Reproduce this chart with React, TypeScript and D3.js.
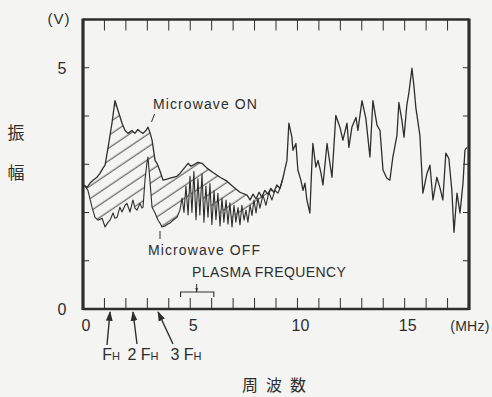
import React from 'react';
import * as d3 from 'd3';

// Microwave ON trace (upper), merges with OFF trace above ~9.3 MHz
const onFreq = [0.05,0.19,0.33,0.47,0.65,0.79,0.93,1.03,1.17,1.35,1.49,1.63,1.82,1.96,2.10,2.28,2.42,2.56,2.66,2.80,2.94,3.03,3.12,3.22,3.36,3.45,3.59,3.73,3.92,4.06,4.20,4.38,4.52,4.76,4.90,5.03,5.13,5.36,5.55,5.78,6.06,6.39,6.71,6.99,7.32,7.65,7.79,7.93,8.07,8.21,8.34,8.48,8.62,8.76,8.90,9.04,9.18,9.32,9.51,9.60,9.74,9.79,9.93,10.02,10.16,10.26,10.35,10.44,10.58,10.68,10.72,10.86,10.96,11.10,11.19,11.38,11.47,11.61,11.79,11.98,12.12,12.31,12.40,12.54,12.73,12.82,13.01,13.19,13.38,13.52,13.71,13.85,13.99,14.17,14.31,14.45,14.64,14.73,14.87,14.97,15.10,15.20,15.34,15.43,15.52,15.71,15.85,16.04,16.18,16.32,16.50,16.64,16.78,16.92,17.06,17.20,17.30,17.44,17.58,17.72,17.81,17.90];
const onVolt = [2.57,2.52,2.61,2.67,2.73,2.81,2.92,2.98,3.35,3.85,4.32,4.12,3.85,3.70,3.64,3.70,3.64,3.72,3.68,3.64,3.70,3.77,3.66,3.50,3.08,3.02,2.86,2.67,2.69,2.71,2.73,2.75,2.81,2.94,3.02,2.96,2.98,3.04,3.02,2.92,2.83,2.73,2.65,2.54,2.42,2.36,2.26,2.38,2.28,2.42,2.32,2.46,2.38,2.50,2.42,2.57,2.50,2.71,3.08,3.85,3.56,3.29,3.43,2.88,2.67,2.46,2.61,2.26,1.99,3.08,3.43,2.94,3.08,2.81,2.57,3.43,3.15,2.73,4.01,3.77,3.50,3.85,3.35,3.77,3.97,3.70,4.32,3.95,3.15,4.32,3.81,3.70,2.88,2.71,2.67,3.15,3.60,4.28,3.91,3.56,4.22,4.49,4.99,4.63,4.18,3.60,2.40,2.81,2.98,2.26,2.73,2.52,2.26,3.23,3.12,2.46,1.59,2.40,1.99,2.61,3.29,3.35];

// Microwave OFF trace (lower, noisy)
const offFreq = [0.05,0.23,0.42,0.56,0.70,0.89,1.03,1.17,1.26,1.40,1.49,1.59,1.72,1.82,1.96,2.05,2.19,2.33,2.42,2.52,2.66,2.75,2.80,2.89,2.98,3.03,3.12,3.22,3.36,3.50,3.59,3.68,3.82,3.96,4.06,4.20,4.38,4.52,4.62,4.71,4.80,4.90,4.99,5.08,5.17,5.27,5.36,5.45,5.55,5.64,5.73,5.83,5.92,6.01,6.11,6.20,6.29,6.39,6.48,6.57,6.67,6.76,6.85,6.95,7.04,7.13,7.23,7.32,7.41,7.51,7.60,7.69,7.79,7.88,7.97,8.07,8.16,8.25,8.39,8.53,8.67,8.81,8.95,9.09,9.23,9.32];
const offVolt = [2.57,2.46,2.11,1.90,1.84,1.88,1.70,1.80,1.84,1.99,1.88,1.90,2.11,2.01,2.15,2.19,2.01,2.26,2.09,2.05,2.19,2.09,2.11,2.67,3.02,3.15,2.67,2.11,1.99,1.84,1.78,1.70,1.72,1.76,1.78,1.84,1.90,2.05,2.30,2.00,2.55,1.95,2.75,2.00,2.85,1.85,2.70,1.95,2.80,1.80,2.55,1.90,2.60,1.75,2.45,1.85,2.40,1.72,2.30,1.80,2.26,1.76,2.20,1.70,2.15,1.80,2.10,1.74,2.15,1.84,2.05,1.80,2.15,1.94,2.26,1.99,2.30,2.09,2.36,2.15,2.42,2.26,2.46,2.40,2.55,2.71];

const xMajorTicks = [0, 5, 10, 15];
const xMajorLabels = ['0', '5', '10', '15'];
const xMinorTicks = [1,2,3,4,5,6,7,8,9,10,11,12,13,14,15,16,17];
const yMinorTicks = [1, 2, 3, 4, 5];
const yLabelTicks = [0, 5];
const yLabels = ['0', '5'];
const harmonicFreqs = [1.26, 2.33, 3.5];
const harmonicPrefix = ['', '2 ', '3 '];
const plasmaRange = [4.55, 6.1];
const plasmaCenter = 5.3;

const W = 492, H = 397;
const ink = '#2e2e2e';
const sans = '"Liberation Sans", Arial, Helvetica, sans-serif';
const cjk = '"Noto Sans CJK JP", "Noto Sans CJK SC", sans-serif';

export default function App() {
  const x = d3.scaleLinear().domain([0, 18]).range([83, 469]);
  const y = d3.scaleLinear().domain([0, 6]).range([309, 19.5]);

  const onPts: [number, number][] = onFreq.map((f, i) => [f, onVolt[i]]);
  const offPts: [number, number][] = offFreq.map((f, i) => [f, offVolt[i]]);
  const line = d3.line<[number, number]>().x(d => x(d[0])).y(d => y(d[1]));
  const joinIdx = onFreq.indexOf(9.32);
  const hatchPoly = onPts.slice(0, joinIdx + 1).concat(offPts.slice().reverse());
  const hatchPath = line(hatchPoly) + 'Z';

  const x0 = x(0), x1 = x(18), yTop = y(6), yBot = y(0);

  const arrowTails = [[107, 345], [137, 344], [173, 344]];

  return (
    <svg width={W} height={H} style={{ position: 'absolute', left: 0, top: 0, display: 'block' }}>
      <defs>
        <pattern id="hatch" patternUnits="userSpaceOnUse" width={12} height={10.5} patternTransform="rotate(-34)">
          <line x1={0} y1={5} x2={12} y2={5} stroke={ink} strokeWidth={0.9} />
        </pattern>
        <marker id="ah" viewBox="0 0 10 10" refX={9} refY={5} markerWidth={7} markerHeight={7} orient="auto">
          <path d="M0,1.5 L10,5 L0,8.5 Z" fill={ink} />
        </marker>
        <marker id="ahs" viewBox="0 0 10 10" refX={9} refY={5} markerWidth={5} markerHeight={5} orient="auto">
          <path d="M0,2 L10,5 L0,8 Z" fill={ink} />
        </marker>
      </defs>
      <rect x={0} y={0} width={W} height={H} fill="#f4f4f2" />

      {/* hatched region between ON and OFF */}
      <path d={hatchPath} fill="url(#hatch)" stroke="none" />

      {/* traces */}
      <path d={line(offPts) || ''} fill="none" stroke={ink} strokeWidth={1.1} strokeLinejoin="round" />
      <path d={line(onPts) || ''} fill="none" stroke={ink} strokeWidth={1.3} strokeLinejoin="round" />

      {/* frame */}
      <line x1={x0} y1={yTop} x2={x1} y2={yTop} stroke={ink} strokeWidth={2.5} />
      <line x1={x0} y1={yBot} x2={x1} y2={yBot} stroke={ink} strokeWidth={2.5} />
      <line x1={x0} y1={yTop - 1} x2={x0} y2={yBot + 1} stroke={ink} strokeWidth={3.2} />
      <line x1={x1} y1={yTop - 1} x2={x1} y2={yBot + 1} stroke={ink} strokeWidth={3.2} />

      {/* ticks */}
      {xMinorTicks.map(t => (
        <g key={'xt' + t}>
          <line x1={x(t)} x2={x(t)} y1={yTop} y2={yTop + 11} stroke={ink} strokeWidth={1} />
          <line x1={x(t)} x2={x(t)} y1={yBot} y2={yBot - 11} stroke={ink} strokeWidth={1} />
        </g>
      ))}
      {yMinorTicks.map(t => (
        <g key={'yt' + t}>
          <line x1={x0} x2={x0 + 6} y1={y(t)} y2={y(t)} stroke={ink} strokeWidth={1} />
          <line x1={x1} x2={x1 - 6} y1={y(t)} y2={y(t)} stroke={ink} strokeWidth={1} />
        </g>
      ))}

      {/* tick labels */}
      {xMajorTicks.map((t, i) => (
        <text key={'xl' + t} x={x(t) + 3} y={331} fontSize={16} fontFamily={sans} fill={ink} textAnchor="middle">{xMajorLabels[i]}</text>
      ))}
      {yLabelTicks.map((t, i) => (
        <text key={'yl' + t} x={62} y={y(t) + 6} fontSize={16} fontFamily={sans} fill={ink} textAnchor="middle">{yLabels[i]}</text>
      ))}
      <text x={59} y={24} fontSize={15} fontFamily={sans} fill={ink} textAnchor="middle" letterSpacing={1}>(V)</text>
      <text x={470} y={331} fontSize={14} fontFamily={sans} fill={ink} textAnchor="middle" letterSpacing={0.3}>(MHz)</text>

      {/* axis titles */}
      <text x={16} y={139} fontSize={17} fontFamily={cjk} fill={ink} textAnchor="middle">振</text>
      <text x={16} y={179} fontSize={17} fontFamily={cjk} fill={ink} textAnchor="middle">幅</text>
      <text x={278} y={391} fontSize={16} fontFamily={cjk} fill={ink} textAnchor="middle" letterSpacing={8}>周波数</text>

      {/* annotations */}
      <text x={153} y={109} fontSize={14} fontFamily={sans} fill={ink} letterSpacing={1.1}>Microwave ON</text>
      <line x1={154.5} y1={114} x2={151.5} y2={122} stroke={ink} strokeWidth={1} />
      <text x={148} y={255} fontSize={14} fontFamily={sans} fill={ink} letterSpacing={1.1}>Microwave OFF</text>
      <line x1={160} y1={231} x2={160} y2={239} stroke={ink} strokeWidth={1} />

      <text x={192} y={277} fontSize={14} fontFamily={sans} fill={ink} letterSpacing={0.4}>PLASMA FREQUENCY</text>
      <path d={`M${x(plasmaRange[0])},${297} V${292} H${x(plasmaRange[1])} V${297}`} fill="none" stroke={ink} strokeWidth={1.1} />
      <line x1={x(plasmaCenter)} y1={284} x2={x(plasmaCenter)} y2={292} stroke={ink} strokeWidth={1} markerEnd="url(#ahs)" />

      {/* harmonic arrows */}
      {harmonicFreqs.map((f, i) => (
        <line key={'ha' + i} x1={arrowTails[i][0]} y1={arrowTails[i][1]} x2={x(f)} y2={yBot + 3} stroke={ink} strokeWidth={1.4} markerEnd="url(#ah)" />
      ))}
      {harmonicFreqs.map((f, i) => {
        const cx = [111, 143, 186][i];
        return (
          <text key={'hl' + i} x={cx} y={360} fontSize={16} fontFamily={sans} fill={ink} textAnchor="middle">
            {harmonicPrefix[i]}F<tspan fontSize={11}>H</tspan>
          </text>
        );
      })}
    </svg>
  );
}
